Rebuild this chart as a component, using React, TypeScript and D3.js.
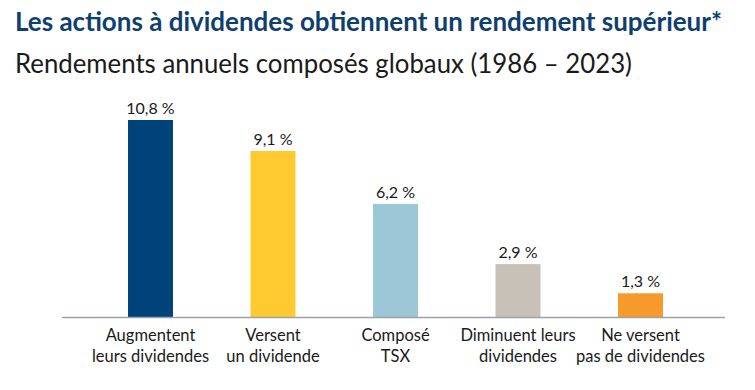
import { useEffect, useRef } from "react";
import * as d3 from "d3";

const categories = [
  ["Augmentent", "leurs dividendes"],
  ["Versent", "un dividende"],
  ["Composé", "TSX"],
  ["Diminuent leurs", "dividendes"],
  ["Ne versent", "pas de dividendes"],
];
const values = [10.8, 9.1, 6.2, 2.9, 1.3];
const colors = ["#00437A", "#FFCA30", "#9BC7D6", "#C8C1B8", "#F79A2C"];
const title = "Les actions à dividendes obtiennent un rendement supérieur*";
const subtitle = "Rendements annuels composés globaux (1986 – 2023)";

const FONT = "Lato, 'Open Sans', sans-serif";

/** Bar chart of compound annual returns by dividend policy. */
function DividendChart() {
  const ref = useRef<SVGSVGElement>(null);

  useEffect(() => {
    const el = ref.current;
    if (!el) return;
    const W = 755, H = 390, base = 317;
    const svg = d3.select(el).attr("viewBox", `0 0 ${W} ${H}`).attr("width", W).attr("height", H);
    svg.selectAll("*").remove();

    // titles
    svg.append("text").attr("x", 15).attr("y", 31).attr("fill", "#0E3F6F").attr("font-size", 26).attr("font-weight", 700)
      .attr("font-family", FONT).attr("textLength", 707).attr("lengthAdjust", "spacingAndGlyphs").text(title);
    svg.append("text").attr("x", 15).attr("y", 73).attr("fill", "#1A1A1A").attr("font-size", 26)
      .attr("font-family", FONT).attr("textLength", 617).attr("lengthAdjust", "spacingAndGlyphs").text(subtitle);

    const idx = values.map((_v, i) => i);
    const x = d3.scaleBand<number>().domain(idx).range([89.25, 701.75]).paddingInner(0.633).paddingOuter(0.3165);
    const y = d3.scaleLinear().domain([0, 10.8]).range([base, 120]);

    svg.append("g").selectAll("rect").data(values).join("rect")
      .attr("x", (_d, i) => x(i) ?? 0).attr("width", x.bandwidth())
      .attr("y", (d) => y(d)).attr("height", (d) => base - y(d))
      .attr("fill", (_d, i) => colors[i]);

    // baseline
    svg.append("line").attr("x1", 62).attr("x2", 725).attr("y1", base + 0.5).attr("y2", base + 0.5)
      .attr("stroke", "#9AA1A8").attr("stroke-width", 1.5);

    // value labels
    svg.append("g").selectAll("text").data(values).join("text")
      .attr("x", (_d, i) => (x(i) ?? 0) + x.bandwidth() / 2).attr("y", (d) => y(d) - 6)
      .attr("text-anchor", "middle").attr("fill", "#1A1A1A").attr("font-size", 16).attr("font-family", FONT)
      .text((d) => `${d.toFixed(1).replace(".", ",")} %`);

    // category labels
    const cat = svg.append("g").selectAll("text").data(categories).join("text")
      .attr("x", (_d, i) => (x(i) ?? 0) + x.bandwidth() / 2).attr("y", 341)
      .attr("text-anchor", "middle").attr("fill", "#1A1A1A").attr("font-size", 16.5).attr("font-family", FONT);
    cat.selectAll("tspan").data((d) => d).join("tspan")
      .attr("x", function () { return (this.parentNode as SVGTextElement).getAttribute("x"); })
      .attr("dy", (_d, j) => (j === 0 ? 0 : 21)).text((d) => d);
  }, []);

  return <svg ref={ref} role="img" aria-label="Rendements annuels composés" style={{ position: "absolute", left: 0, top: 0 }} />;
}

export default function App() {
  return <DividendChart />;
}
